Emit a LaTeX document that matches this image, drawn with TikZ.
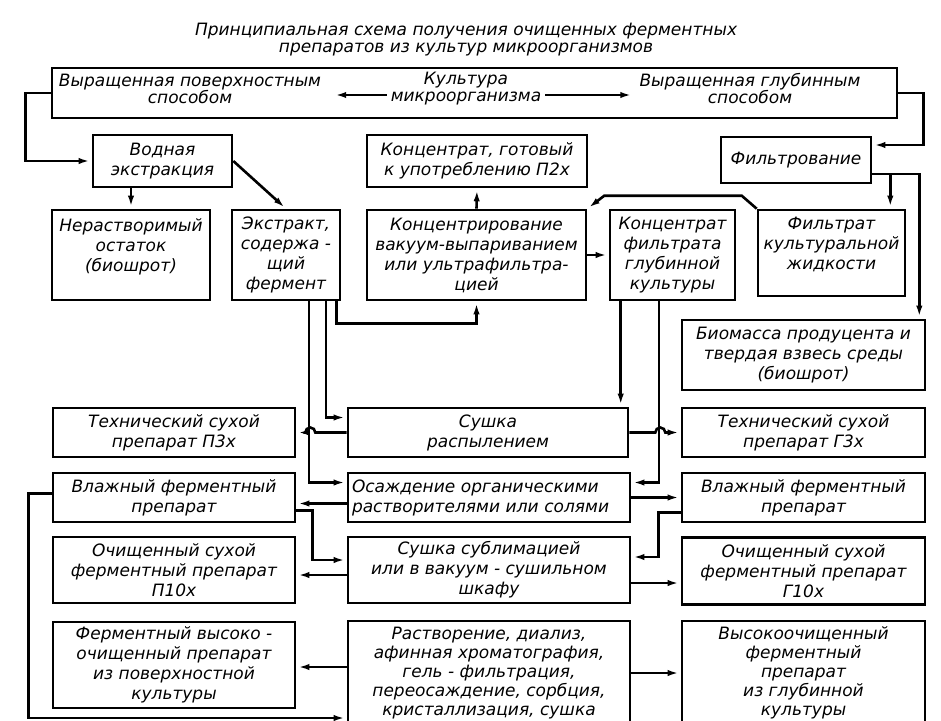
\documentclass[tikz,border=0pt]{standalone}
\usepackage{fontspec}
\setmainfont{DejaVu Sans}
\usetikzlibrary{arrows.meta,calc}

\begin{document}
\begin{tikzpicture}[
    >={Latex[length=13pt,width=6pt]},
    x=1pt, y=-1pt,
    every node/.style={font=\fontsize{17}{20}\selectfont\itshape},
    stage/.style={draw,line width=2.6pt,align=center,inner sep=2pt},
    tight/.style={font=\fontsize{17}{19}\selectfont\itshape},
    txt/.style={align=center,inner sep=0pt,font=\fontsize{17}{17}\selectfont\itshape},
    flow/.style={->,line width=2.6pt},
  ]

  % page frame in pixel units (y grows downwards)
  \useasboundingbox (0,0) rectangle (941,720);
  \clip (0,0) rectangle (941,720);

  % --- title ---
  \node[txt] (title) at (466,40) {Принципиальная схема получения очищенных ферментных\\препаратов из культур микроорганизмов};

  % --- culture frame (top) ---
  \node[stage,minimum width=845pt,minimum height=50pt] (culture) at (474.5,93) {};
  \node[txt] (surf)  at (190,89) {Выращенная поверхностным\\способом};
  \node[txt] (micro) at (466,89) {Культура\\микроорганизма};
  \node[txt] (deep)  at (750,89) {Выращенная глубинным\\способом};

  % --- first stage ---
  \node[stage,minimum width=139pt,minimum height=52pt] (water) at (162.5,161) {Водная\\экстракция};
  \node[stage,minimum width=220pt,minimum height=52pt] (ready) at (477,161) {Концентрат, готовый\\к употреблению П2х};
  \node[stage,minimum width=150pt,minimum height=46pt] (filt)  at (796,160) {Фильтрование};

  % --- extracts and concentrates ---
  \node[stage,minimum width=158pt,minimum height=90pt] (residue)  at (131,255)   {Нерастворимый\\остаток\\(биошрот)\\ \mbox{}};
  \node[stage,minimum width=108pt,minimum height=90pt] (extract)  at (286,255)   {Экстракт,\\содержа -\\щий\\фермент};
  \node[stage,minimum width=219pt,minimum height=90pt] (conc)     at (476.5,255) {Концентрирование\\вакуум-выпариванием\\или ультрафильтра-\\цией};
  \node[stage,minimum width=125pt,minimum height=90pt] (deepconc) at (672.5,255) {Концентрат\\фильтрата\\глубинной\\культуры};
  \node[stage,minimum width=147pt,minimum height=86pt] (filtrate) at (831.5,253) {Фильтрат\\культуральной\\жидкости\\ \mbox{}};
  \node[stage,minimum width=243pt,minimum height=70pt] (biomass)  at (803.5,355) {Биомасса продуцента и\\твердая взвесь среды\\(биошрот)};

  % --- products, three columns ---
  \node[stage,minimum width=242pt,minimum height=49pt] (tech1) at (174,432.5)   {Технический сухой\\препарат П3х};
  \node[stage,minimum width=280pt,minimum height=49pt] (spray) at (488,432.5)   {Сушка\\распылением};
  \node[stage,minimum width=243pt,minimum height=49pt] (tech2) at (803.5,432.5) {Технический сухой\\препарат Г3х};

  \node[stage,minimum width=242pt,minimum height=49pt] (wet1) at (174,497.5) {Влажный ферментный\\препарат};
  \node[stage,minimum width=282pt,minimum height=49pt,align=left,text width=274pt] (precip) at (489,497.5)
    {Осаждение органическими\\растворителями или солями};
  \node[stage,minimum width=243pt,minimum height=49pt] (wet2) at (803.5,497.5) {Влажный ферментный\\препарат};

  \node[stage,minimum width=242pt,minimum height=66pt] (pure1)  at (174,570)   {Очищенный сухой\\ферментный препарат\\П10х};
  \node[stage,minimum width=282pt,minimum height=66pt] (freeze) at (489,570)   {Сушка сублимацией\\или в вакуум - сушильном\\шкафу};
  \node[stage,minimum width=243pt,minimum height=67pt] (pure2)  at (803.5,571) {Очищенный сухой\\ферментный препарат\\Г10х};

  \node[stage,minimum width=242pt,minimum height=86pt]          (high1)    at (174,665)   {Ферментный высоко -\\очищенный препарат\\из поверхностной\\культуры};
  \node[stage,tight,minimum width=282pt,minimum height=104pt]   (dissolve) at (489,673)   {Растворение, диализ,\\афинная хроматография,\\гель - фильтрация,\\переосаждение, сорбция,\\кристаллизация, сушка};
  \node[stage,tight,minimum width=243pt,minimum height=104pt]   (high2)    at (803.5,673) {Высокоочищенный\\ферментный\\препарат\\из глубинной\\культуры};

  % --- arrows inside the culture frame ---
  \draw[flow] ($(micro.west)+(-4,6)$) -- ($(surf.east)+(12,6)$);
  \draw[flow] ($(micro.east)+(4,6)$)  -- ($(deep.west)+(-6,6)$);

  % --- surface culture branch ---
  \draw[flow] (culture.west) -- ++(-25,0) |- (water.west);
  \draw[flow] (residue.north |- water.south) -- (residue.north);
  \draw[flow] (water.east) -- (extract.north);
  \draw[flow] ($(extract.south east)+(-5,0)$) -- ++(0,22) -| (conc.south);
  \draw[flow] ($(extract.south)+(40,0)$) |- ($(spray.west)+(0,-15)$);
  \draw[flow] ($(extract.south)+(23,0)$) |- ($(precip.west)+(0,-15)$);
  \draw[flow] (conc.north) -- (ready.south);
  \draw[flow] (conc.east) -- (deepconc.west);

  % --- deep culture branch ---
  \draw[flow] (culture.east) -- ++(25,0) |- ($(filt.east)+(0,-15)$);
  \coordinate (fsplit) at ($(filt.east)+(18,14)$);
  \draw[flow] ($(filt.east)+(0,14)$) -| ($(biomass.north east)+(-7,0)$);
  \draw[flow] (fsplit) -- (fsplit |- filtrate.north);
  \draw[flow] (filtrate.north west) -- ++(-15,-13) -- ($(conc.north east)+(17,-13)$) -- (conc.north east);
  \coordinate (dc) at ($(deepconc.south west)+(12,0)$);
  \draw[flow] (dc) -- (dc |- spray.north);
  \draw[flow] ($(deepconc.south)+(-13.5,0)$) |- ($(precip.east)+(0,-15)$);

  % --- drying, hops over the crossing lines ---
  \draw[flow] (spray.west) -- ($(tech1.east)+(19,0)$) arc[start angle=0,end angle=180,radius=5pt] -- (tech1.east);
  \draw[flow] (spray.east) -- ($(spray.east)+(26,0)$) arc[start angle=180,end angle=0,radius=5pt] -- (tech2.west);

  % --- wet preparations ---
  \draw[flow] ($(precip.west)+(0,6)$) -- ($(wet1.east)+(0,6)$);
  \draw[flow] (precip.east) -- (wet2.west);
  \draw[flow] ($(wet1.east)+(0,13)$) -- ++(16,0) |- ($(freeze.west)+(0,-10)$);
  \draw[flow] ($(wet2.west)+(0,15)$) -- ++(-22,0) |- ($(freeze.east)+(0,-13)$);
  \draw[flow] ($(freeze.west)+(0,5)$) -- ($(pure1.east)+(0,5)$);
  \draw[flow] ($(freeze.east)+(0,13)$) -- ($(pure2.west)+(0,12)$);

  % --- purification ---
  \draw[flow] ($(wet1.west)+(0,-4)$) -- ++(-23,0) |- ($(dissolve.west)+(0,45)$);
  \draw[flow] ($(dissolve.west)+(0,-6)$) -- ($(high1.east)+(0,2)$);
  \draw[flow] (dissolve.east) -- (high2.west);

\end{tikzpicture}
\end{document}
